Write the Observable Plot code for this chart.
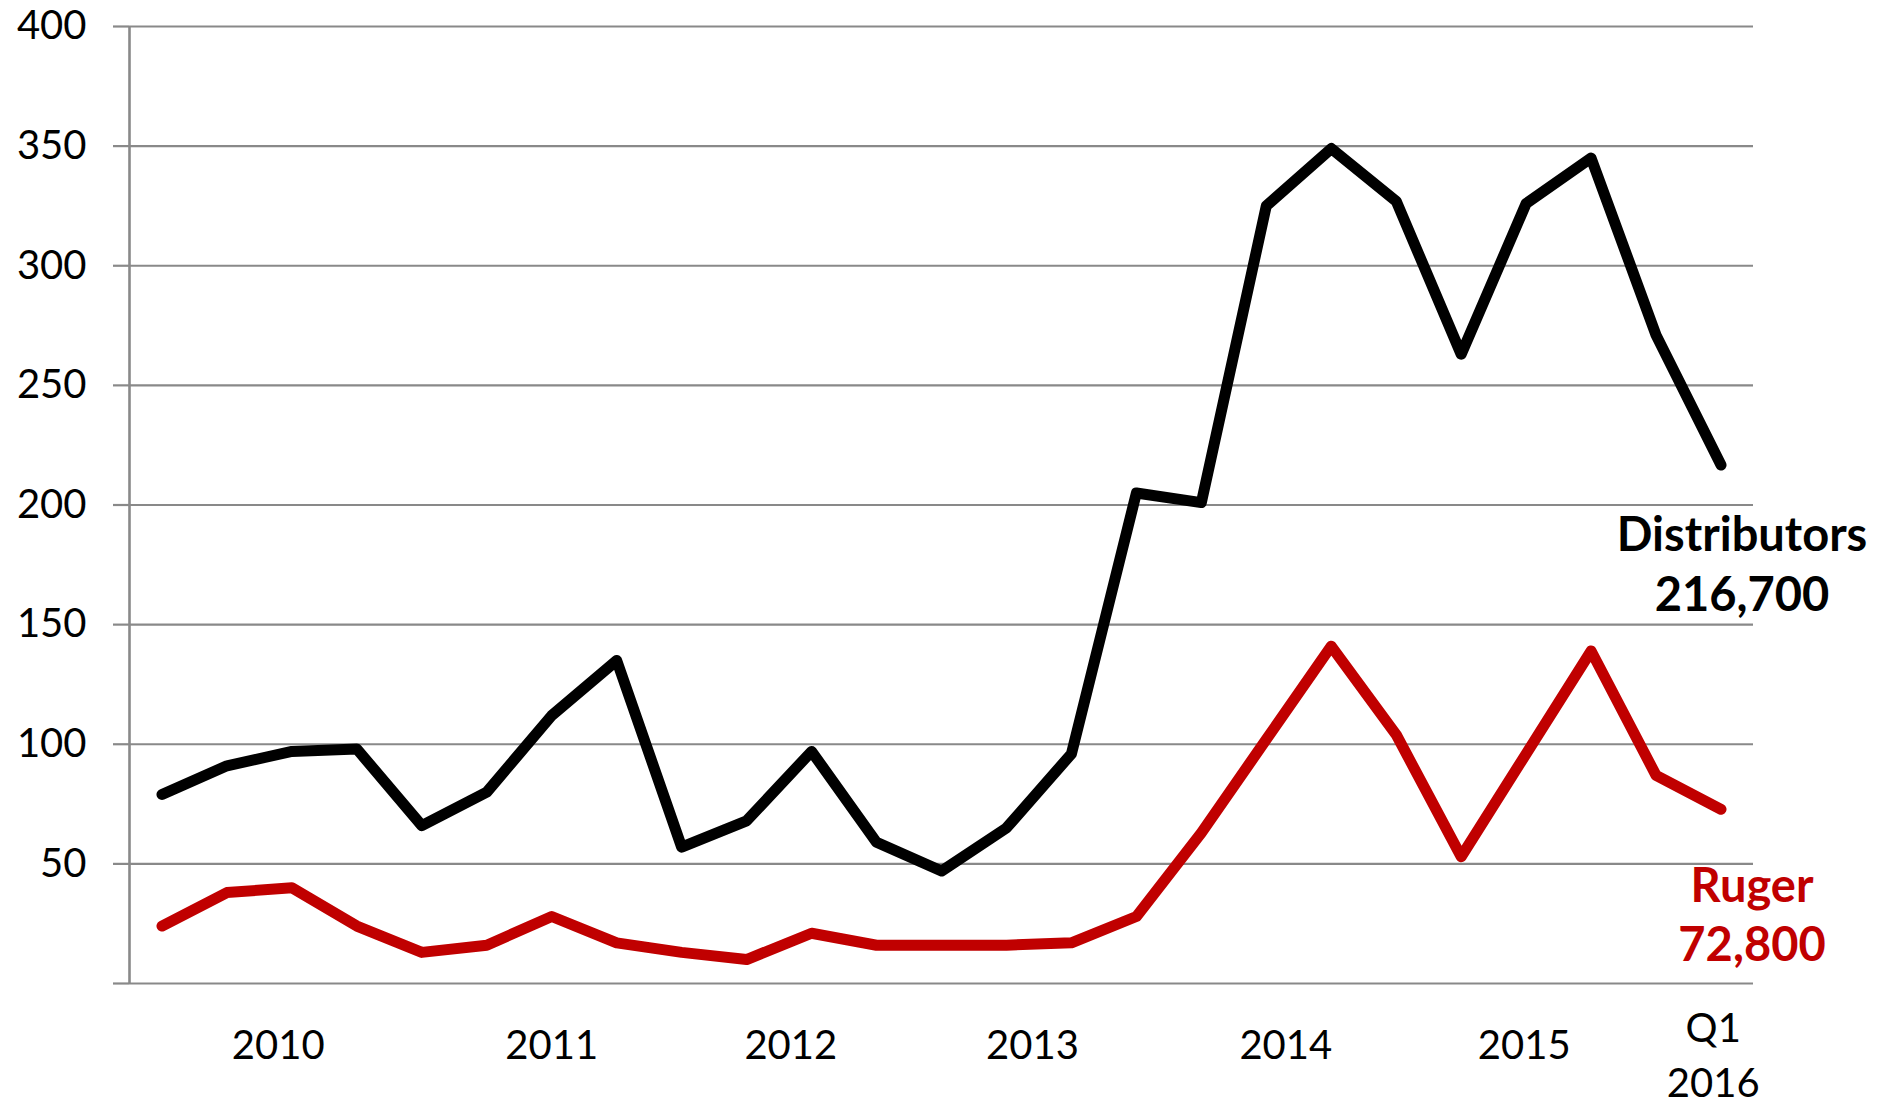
<!DOCTYPE html>
<html>
<head>
<meta charset="utf-8">
<script src="https://cdn.jsdelivr.net/npm/d3@7"></script>
<script src="https://cdn.jsdelivr.net/npm/@observablehq/plot@0.6"></script>
<style>
  html, body { margin: 0; padding: 0; background: #fff; }
  #chart svg { display: block; }
</style>
</head>
<body>
<div id="chart"></div>
<script>
// Quarterly values (thousands), 2010 Q1 .. 2016 Q1
const distributors = [79, 91, 97, 98, 66, 80, 112, 135, 57, 68, 97, 59, 47, 65, 96, 205, 201, 325, 349, 327, 263, 326, 345, 271, 216.7];
const ruger = [24, 38, 40, 24, 13, 16, 28, 17, 13, 10, 21, 16, 16, 16, 17, 28, 63, 102, 141, 104, 53, 96, 139, 87, 72.8];

// x tick labels and where they sit along the quarter index
const xTickLabels = ["2010", "2011", "2012", "2013", "2014", "2015", "Q1\n2016"];
const xTickPositions = [1.79, 6.0, 9.68, 13.4, 17.3, 20.97, 23.88];
const yTicks = [0, 50, 100, 150, 200, 250, 300, 350, 400];

const seriesNames = ["Distributors", "Ruger"];
const endLabels = ["Distributors\n216,700", "Ruger\n72,800"];
const seriesColors = ["#000000", "#c00000"];

const rows = [];
distributors.forEach((v, i) => rows.push({i, v, s: seriesNames[0]}));
ruger.forEach((v, i) => rows.push({i, v, s: seriesNames[1]}));

const last = distributors.length - 1;
const distLabel = [{i: last, v: distributors[last], s: seriesNames[0], t: endLabels[0]}];
const rugerLabel = [{i: last, v: ruger[last], s: seriesNames[1], t: endLabels[1]}];

const tickLabelMap = new Map(xTickPositions.map((p, k) => [p, xTickLabels[k]]));
const singleTicks = xTickPositions.filter(p => !tickLabelMap.get(p).includes("\n"));
const doubleTicks = xTickPositions.filter(p => tickLabelMap.get(p).includes("\n"));
const gray = "#898989";

const labelFont = {
  fontSize: 47,
  fontWeight: "bold",
  fontFamily: "Lato, 'Open Sans', sans-serif",
  lineAnchor: "middle",
  lineHeight: 1.27
};

const chart = Plot.plot({
  width: 1892,
  height: 1100,
  marginLeft: 129,
  marginRight: 139,
  marginTop: 26,
  marginBottom: 117,
  style: {fontFamily: "Lato, 'Open Sans', sans-serif", background: "#fff"},
  x: {domain: [-0.5, distributors.length - 0.5]},
  y: {domain: [0, 400]},
  color: {domain: seriesNames, range: seriesColors},
  marks: [
    Plot.ruleY(yTicks, {stroke: gray, strokeWidth: 2.2, strokeOpacity: 1}),
    Plot.ruleX([-0.5], {y1: 0, y2: 400, stroke: gray, strokeWidth: 2.6}),
    Plot.axisY(yTicks, {
      tickSize: 16,
      tickPadding: 27,
      stroke: gray,
      strokeWidth: 2.2,
      strokeOpacity: 1,
      fontSize: 40,
      fill: "#000",
      tickFormat: d => d === 0 ? "" : String(d),
      label: null
    }),
    Plot.axisX(singleTicks, {
      tickSize: 0,
      tickPadding: 63,
      lineAnchor: "middle",
      fontSize: 40,
      fill: "#000",
      tickFormat: d => tickLabelMap.get(d),
      label: null
    }),
    Plot.axisX(doubleTicks, {
      tickSize: 0,
      tickPadding: 68,
      lineAnchor: "middle",
      lineHeight: 1.375,
      fontSize: 40,
      fill: "#000",
      tickFormat: d => tickLabelMap.get(d),
      label: null
    }),
    Plot.line(rows, {
      x: "i", y: "v", z: "s", stroke: "s",
      strokeWidth: 11, strokeLinecap: "round", strokeLinejoin: "round"
    }),
    Plot.text(distLabel, {x: "i", y: "v", text: "t", fill: "s", dx: 21, dy: 97, ...labelFont}),
    Plot.text(rugerLabel, {x: "i", y: "v", text: "t", fill: "s", dx: 31, dy: 103, ...labelFont})
  ]
});

document.getElementById("chart").appendChild(chart);
</script>
</body>
</html>
